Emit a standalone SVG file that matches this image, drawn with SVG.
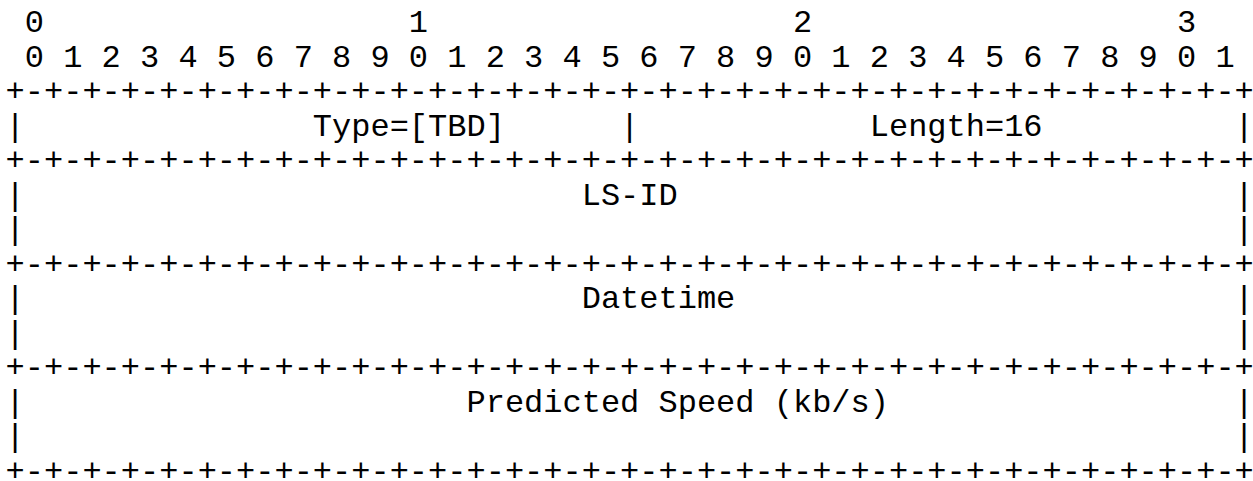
<svg xmlns="http://www.w3.org/2000/svg" width="1253" height="481" viewBox="0 0 1253 481">
<style>
text{font-family:"Liberation Mono","Courier New",monospace;font-size:32px;fill:#000;white-space:pre}
</style>
<rect width="1253" height="481" fill="#fff"/>
<g id="ruler">
<text x="5.6" y="32" xml:space="preserve"> 0                   1                   2                   3</text>
<text x="5.6" y="66.5" xml:space="preserve"> 0 1 2 3 4 5 6 7 8 9 0 1 2 3 4 5 6 7 8 9 0 1 2 3 4 5 6 7 8 9 0 1</text>
</g>
<g id="borders">
<text x="5.6" y="101" xml:space="preserve">+-+-+-+-+-+-+-+-+-+-+-+-+-+-+-+-+-+-+-+-+-+-+-+-+-+-+-+-+-+-+-+-+</text>
<text x="5.6" y="170" xml:space="preserve">+-+-+-+-+-+-+-+-+-+-+-+-+-+-+-+-+-+-+-+-+-+-+-+-+-+-+-+-+-+-+-+-+</text>
<text x="5.6" y="273.5" xml:space="preserve">+-+-+-+-+-+-+-+-+-+-+-+-+-+-+-+-+-+-+-+-+-+-+-+-+-+-+-+-+-+-+-+-+</text>
<text x="5.6" y="377" xml:space="preserve">+-+-+-+-+-+-+-+-+-+-+-+-+-+-+-+-+-+-+-+-+-+-+-+-+-+-+-+-+-+-+-+-+</text>
<text x="5.6" y="480.5" xml:space="preserve">+-+-+-+-+-+-+-+-+-+-+-+-+-+-+-+-+-+-+-+-+-+-+-+-+-+-+-+-+-+-+-+-+</text>
</g>
<g id="type-length">
<text x="5.6" y="135.5" xml:space="preserve">|               Type=[TBD]      |            Length=16          |</text>
</g>
<g id="ls-id">
<text x="5.6" y="204.5" xml:space="preserve">|                             LS-ID                             |</text>
<text x="5.6" y="239" xml:space="preserve">|                                                               |</text>
</g>
<g id="datetime">
<text x="5.6" y="308" xml:space="preserve">|                             Datetime                          |</text>
<text x="5.6" y="342.5" xml:space="preserve">|                                                               |</text>
</g>
<g id="predicted-speed">
<text x="5.6" y="411.5" xml:space="preserve">|                       Predicted Speed (kb/s)                  |</text>
<text x="5.6" y="446" xml:space="preserve">|                                                               |</text>
</g>
</svg>
